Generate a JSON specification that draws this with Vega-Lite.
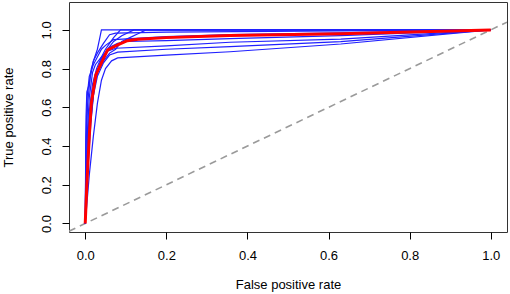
{
  "$schema": "https://vega.github.io/schema/vega-lite/v6.json",
  "autosize": "none",
  "width": 438,
  "height": 230,
  "padding": {"left": 69, "top": 2, "right": 3, "bottom": 62},
  "config": {
    "view": {"stroke": "#333333", "strokeWidth": 1},
    "axis": {
      "domain": false, "grid": false, "tickColor": "#000000", "tickSize": 7, "tickWidth": 1,
      "labelFont": "Liberation Sans", "labelFontSize": 13, "labelColor": "#000000",
      "titleFont": "Liberation Sans", "titleFontSize": 13, "titleFontWeight": "normal", "titleColor": "#000000"
    }
  },
  "datasets": {
    "diag": [{"x": -0.04, "y": -0.04}, {"x": 1.04, "y": 1.04}],
    "blue": [
      {"c":1,"i":0,"x":0,"y":0},{"c":1,"i":1,"x":0.001,"y":0.3},{"c":1,"i":2,"x":0.002,"y":0.55},{"c":1,"i":3,"x":0.004,"y":0.68},{"c":1,"i":4,"x":0.01,"y":0.72},{"c":1,"i":5,"x":0.015,"y":0.8},{"c":1,"i":6,"x":0.022,"y":0.85},{"c":1,"i":7,"x":0.03,"y":0.9},{"c":1,"i":8,"x":0.035,"y":0.95},{"c":1,"i":9,"x":0.04,"y":1},{"c":1,"i":10,"x":1,"y":1},
      {"c":2,"i":0,"x":0,"y":0},{"c":2,"i":1,"x":0.003,"y":0.25},{"c":2,"i":2,"x":0.006,"y":0.5},{"c":2,"i":3,"x":0.01,"y":0.65},{"c":2,"i":4,"x":0.018,"y":0.78},{"c":2,"i":5,"x":0.025,"y":0.82},{"c":2,"i":6,"x":0.04,"y":0.86},{"c":2,"i":7,"x":0.05,"y":0.9},{"c":2,"i":8,"x":0.06,"y":0.93},{"c":2,"i":9,"x":0.07,"y":0.96},{"c":2,"i":10,"x":0.087,"y":1},{"c":2,"i":11,"x":1,"y":1},
      {"c":3,"i":0,"x":0,"y":0},{"c":3,"i":1,"x":0.006,"y":0.3},{"c":3,"i":2,"x":0.012,"y":0.55},{"c":3,"i":3,"x":0.02,"y":0.68},{"c":3,"i":4,"x":0.03,"y":0.78},{"c":3,"i":5,"x":0.045,"y":0.84},{"c":3,"i":6,"x":0.06,"y":0.88},{"c":3,"i":7,"x":0.075,"y":0.9},{"c":3,"i":8,"x":0.09,"y":0.94},{"c":3,"i":9,"x":0.11,"y":0.96},{"c":3,"i":10,"x":0.13,"y":0.98},{"c":3,"i":11,"x":0.15,"y":1},{"c":3,"i":12,"x":1,"y":1},
      {"c":4,"i":0,"x":0,"y":0},{"c":4,"i":1,"x":0.002,"y":0.4},{"c":4,"i":2,"x":0.006,"y":0.62},{"c":4,"i":3,"x":0.012,"y":0.75},{"c":4,"i":4,"x":0.02,"y":0.84},{"c":4,"i":5,"x":0.03,"y":0.88},{"c":4,"i":6,"x":0.045,"y":0.93},{"c":4,"i":7,"x":0.06,"y":0.975},{"c":4,"i":8,"x":0.075,"y":0.983},{"c":4,"i":9,"x":0.2,"y":0.988},{"c":4,"i":10,"x":0.63,"y":0.995},{"c":4,"i":11,"x":1,"y":1},
      {"c":5,"i":0,"x":0,"y":0},{"c":5,"i":1,"x":0.004,"y":0.28},{"c":5,"i":2,"x":0.01,"y":0.52},{"c":5,"i":3,"x":0.018,"y":0.68},{"c":5,"i":4,"x":0.028,"y":0.78},{"c":5,"i":5,"x":0.04,"y":0.85},{"c":5,"i":6,"x":0.055,"y":0.9},{"c":5,"i":7,"x":0.07,"y":0.94},{"c":5,"i":8,"x":0.09,"y":0.97},{"c":5,"i":9,"x":0.12,"y":1},{"c":5,"i":10,"x":1,"y":1},
      {"c":6,"i":0,"x":0,"y":0},{"c":6,"i":1,"x":0.002,"y":0.45},{"c":6,"i":2,"x":0.005,"y":0.66},{"c":6,"i":3,"x":0.01,"y":0.76},{"c":6,"i":4,"x":0.02,"y":0.82},{"c":6,"i":5,"x":0.03,"y":0.86},{"c":6,"i":6,"x":0.04,"y":0.9},{"c":6,"i":7,"x":0.05,"y":0.92},{"c":6,"i":8,"x":0.07,"y":0.95},{"c":6,"i":9,"x":0.2,"y":0.965},{"c":6,"i":10,"x":0.357,"y":0.975},{"c":6,"i":11,"x":0.63,"y":0.985},{"c":6,"i":12,"x":1,"y":1},
      {"c":7,"i":0,"x":0,"y":0},{"c":7,"i":1,"x":0.007,"y":0.3},{"c":7,"i":2,"x":0.014,"y":0.52},{"c":7,"i":3,"x":0.022,"y":0.7},{"c":7,"i":4,"x":0.032,"y":0.8},{"c":7,"i":5,"x":0.045,"y":0.87},{"c":7,"i":6,"x":0.06,"y":0.91},{"c":7,"i":7,"x":0.08,"y":0.93},{"c":7,"i":8,"x":0.1,"y":0.94},{"c":7,"i":9,"x":0.2,"y":0.944},{"c":7,"i":10,"x":0.357,"y":0.955},{"c":7,"i":11,"x":0.63,"y":0.97},{"c":7,"i":12,"x":1,"y":1},
      {"c":8,"i":0,"x":0,"y":0},{"c":8,"i":1,"x":0.004,"y":0.35},{"c":8,"i":2,"x":0.01,"y":0.58},{"c":8,"i":3,"x":0.018,"y":0.72},{"c":8,"i":4,"x":0.028,"y":0.8},{"c":8,"i":5,"x":0.04,"y":0.86},{"c":8,"i":6,"x":0.055,"y":0.89},{"c":8,"i":7,"x":0.075,"y":0.905},{"c":8,"i":8,"x":0.2,"y":0.917},{"c":8,"i":9,"x":0.357,"y":0.936},{"c":8,"i":10,"x":0.63,"y":0.952},{"c":8,"i":11,"x":1,"y":1},
      {"c":9,"i":0,"x":0,"y":0},{"c":9,"i":1,"x":0.005,"y":0.3},{"c":9,"i":2,"x":0.012,"y":0.5},{"c":9,"i":3,"x":0.02,"y":0.66},{"c":9,"i":4,"x":0.03,"y":0.76},{"c":9,"i":5,"x":0.045,"y":0.83},{"c":9,"i":6,"x":0.06,"y":0.87},{"c":9,"i":7,"x":0.08,"y":0.885},{"c":9,"i":8,"x":0.2,"y":0.9},{"c":9,"i":9,"x":0.357,"y":0.913},{"c":9,"i":10,"x":0.63,"y":0.939},{"c":9,"i":11,"x":1,"y":1},
      {"c":10,"i":0,"x":0,"y":0},{"c":10,"i":1,"x":0.01,"y":0.25},{"c":10,"i":2,"x":0.02,"y":0.45},{"c":10,"i":3,"x":0.03,"y":0.62},{"c":10,"i":4,"x":0.04,"y":0.74},{"c":10,"i":5,"x":0.05,"y":0.8},{"c":10,"i":6,"x":0.065,"y":0.84},{"c":10,"i":7,"x":0.08,"y":0.855},{"c":10,"i":8,"x":0.2,"y":0.87},{"c":10,"i":9,"x":0.357,"y":0.887},{"c":10,"i":10,"x":0.63,"y":0.927},{"c":10,"i":11,"x":1,"y":1}
    ],
    "mean": [
      {"i":0,"x":0,"y":0},{"i":1,"x":0.004,"y":0.2},{"i":2,"x":0.01,"y":0.45},{"i":3,"x":0.015,"y":0.62},{"i":4,"x":0.026,"y":0.766},{"i":5,"x":0.043,"y":0.844},{"i":6,"x":0.055,"y":0.896},{"i":7,"x":0.08,"y":0.922},{"i":8,"x":0.104,"y":0.944},{"i":9,"x":0.13,"y":0.952},{"i":10,"x":0.2,"y":0.96},{"i":11,"x":0.357,"y":0.971},{"i":12,"x":0.63,"y":0.98},{"i":13,"x":1,"y":1}
    ]
  },
  "layer": [
    {
      "data": {"name": "diag"},
      "mark": {"type": "line", "clip": true, "color": "#9a9a9a", "strokeWidth": 1.6, "strokeDash": [7, 5]},
      "encoding": {
        "x": {"field": "x", "type": "quantitative", "scale": {"domain": [-0.04, 1.04], "nice": false, "zero": false},
              "axis": {"values": [0, 0.2, 0.4, 0.6, 0.8, 1.0], "format": ".1f", "title": "False positive rate", "labelPadding": 10, "titlePadding": 16}},
        "y": {"field": "y", "type": "quantitative", "scale": {"domain": [-0.044, 1.144], "nice": false, "zero": false},
              "axis": {"values": [0, 0.2, 0.4, 0.6, 0.8, 1.0], "format": ".1f", "title": "True positive rate", "labelAngle": -90, "labelAlign": "center", "labelBaseline": "alphabetic", "labelPadding": 12, "titlePadding": 25}}
      }
    },
    {
      "data": {"name": "blue"},
      "mark": {"type": "line", "clip": true, "color": "#2020ff", "strokeWidth": 1.2},
      "encoding": {
        "x": {"field": "x", "type": "quantitative"},
        "y": {"field": "y", "type": "quantitative"},
        "detail": {"field": "c", "type": "nominal"},
        "order": {"field": "i", "type": "quantitative"}
      }
    },
    {
      "data": {"name": "mean"},
      "mark": {"type": "line", "clip": true, "color": "#ff0000", "strokeWidth": 3},
      "encoding": {
        "x": {"field": "x", "type": "quantitative"},
        "y": {"field": "y", "type": "quantitative"},
        "order": {"field": "i", "type": "quantitative"}
      }
    }
  ]
}
